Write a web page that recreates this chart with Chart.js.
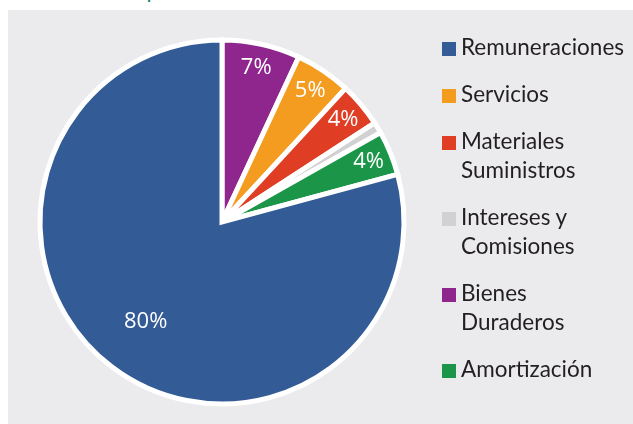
<!DOCTYPE html>
<html lang="es">
<head>
  <meta charset="UTF-8" />
  <title>Distribución del gasto</title>
  <style>
    body {
      margin: 0;
      background-color: #ffffff;
      font-family: Lato, "Open Sans", sans-serif;
    }

    .wrap {
      position: relative;
      width: 633px;
      height: 424px;
      overflow: hidden;
    }

    .panel {
      position: absolute;
      left: 8px;
      top: 10px;
      right: 0;
      bottom: 0;
      background-color: #ebebed;
    }

    .title-cut {
      position: absolute;
      left: 146px;
      top: -30px;
      color: #12876f;
      font: 24px "Open Sans", sans-serif;
    }

    #gastoChart {
      position: absolute;
      left: 0;
      top: 0;
    }

    .legend {
      position: absolute;
      left: 442px;
      top: 32px;
      list-style: none;
      margin: 0;
      padding: 0;
    }

    .legend li {
      display: flex;
      align-items: flex-start;
      margin-bottom: 18px;
      font-size: 22.5px;
      line-height: 29px;
      color: #231f20;
    }

    .legend .box {
      width: 14px;
      height: 14px;
      margin-top: 10px;
      margin-right: 5px;
      flex: none;
    }

    .legend .text {
      width: 150px;
    }
  </style>
</head>
<body>
  <div class="wrap">
    <div class="title-cut">p</div>
    <div class="panel"></div>
    <canvas id="gastoChart" width="633" height="424"></canvas>
    <ul class="legend" id="legend"></ul>
  </div>

  <script src="https://cdn.jsdelivr.net/npm/chart.js"></script>
  <script>
    // slices, clockwise from 12 o'clock
    const categories = ['Bienes Duraderos', 'Servicios', 'Materiales Suministros', 'Intereses y Comisiones', 'Amortización', 'Remuneraciones'];
    const values = [7, 5, 4, 1, 4, 80];
    const colors = ['#8e268d', '#f49c1f', '#e03d25', '#d1d1d3', '#1b9649', '#335b95'];
    // legend lists the categories in a different order
    const legendOrder = [5, 1, 2, 3, 0, 4];

    // white percentage labels inside the slices
    const sliceLabels = {
      id: 'sliceLabels',
      afterDatasetsDraw(chart) {
        const ctx = chart.ctx;
        const meta = chart.getDatasetMeta(0);
        ctx.save();
        ctx.font = '22px "Open Sans", sans-serif';
        ctx.fillStyle = '#ffffff';
        ctx.textAlign = 'center';
        ctx.textBaseline = 'middle';
        meta.data.forEach((arc, i) => {
          if (values[i] < 2) return;
          const p = arc.getProps(['x', 'y', 'startAngle', 'endAngle', 'outerRadius'], true);
          const mid = (p.startAngle + p.endAngle) / 2;
          const r = p.outerRadius * (values[i] > 50 ? 0.69 : 0.87);
          ctx.fillText(values[i] + '%', p.x + Math.cos(mid) * r, p.y + Math.sin(mid) * r);
        });
        ctx.restore();
      }
    };

    new Chart(document.getElementById('gastoChart'), {
      type: 'pie',
      data: {
        labels: categories,
        datasets: [{
          data: values,
          backgroundColor: colors,
          borderColor: '#ffffff',
          borderWidth: 5,
          borderJoinStyle: 'miter'
        }]
      },
      options: {
        responsive: false,
        animation: false,
        devicePixelRatio: 1,
        layout: {
          padding: { left: 37.5, top: 37.5, right: 226.5, bottom: 17.5 }
        },
        plugins: {
          legend: { display: false },
          tooltip: { enabled: false }
        }
      },
      plugins: [sliceLabels]
    });

    const legend = document.getElementById('legend');
    legendOrder.forEach(i => {
      const li = document.createElement('li');
      li.innerHTML = `<span class="box" style="background:${colors[i]}"></span><span class="text">${categories[i]}</span>`;
      legend.appendChild(li);
    });
  </script>
</body>
</html>
